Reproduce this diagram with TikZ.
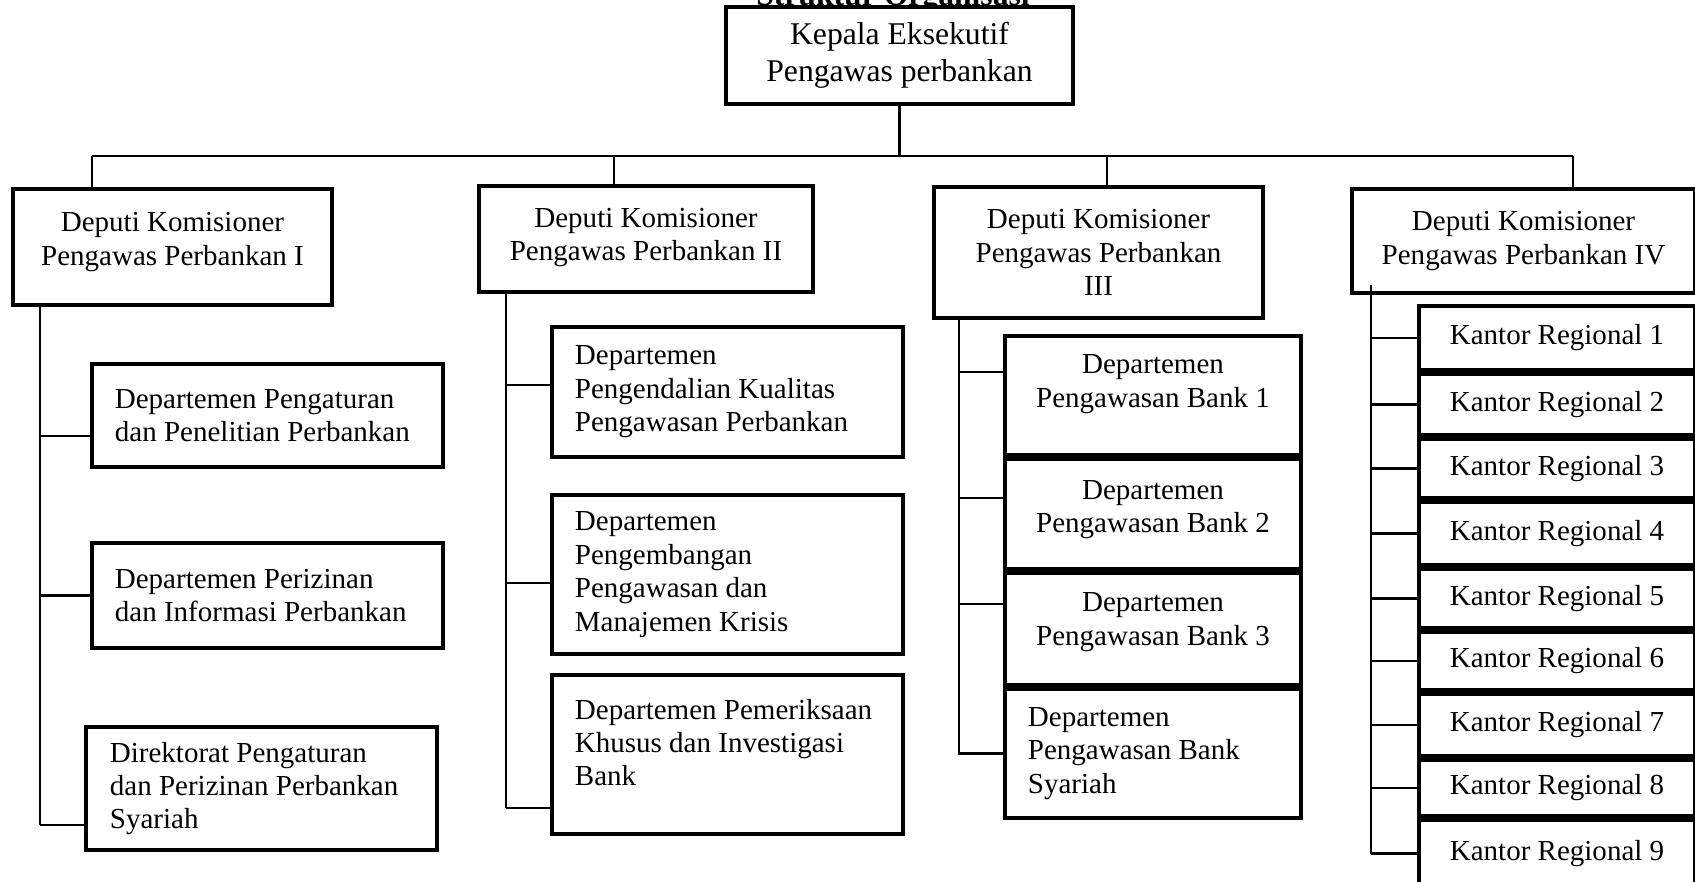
\documentclass[tikz,border=0pt]{standalone}
\usepackage{fontspec}
\setmainfont{Liberation Serif}
\usepackage{tikz}

\tikzset{
  box/.style={draw, rectangle, line width=1.15pt, align=center, inner sep=0pt},
  lbox/.style={box, align=flush left, inner xsep=0.23cm},
  link/.style={line width=0.6pt},
}

\begin{document}
\begin{tikzpicture}[x=0.01cm, y=-0.01cm, font=\fontsize{8.25}{9.5}\selectfont]
    % Struktur organisasi pengawas perbankan
    \clip (0,0) rectangle (1695,881);
    \node (title) at (893,5) [anchor=base, font=\fontsize{9}{10.4}\selectfont\bfseries] {Struktur Organisasi};
    \node (top) at (899.5,55.5) [box, fill=white, minimum width=3.47cm, minimum height=0.97cm, font=\fontsize{9}{10.4}\selectfont] {Kepala Eksekutif\\Pengawas perbankan};

    % deputi komisioner
    \node (dep1) at (172.5,247) [box, minimum width=3.19cm, minimum height=1.16cm, text depth=0.16cm] {Deputi Komisioner\\Pengawas Perbankan I};
    \node (dep2) at (646,239) [box, minimum width=3.34cm, minimum height=1.06cm, text depth=0.09cm] {Deputi Komisioner\\Pengawas Perbankan II};
    \node (dep3) at (1098.5,252.5) [box, minimum width=3.29cm, minimum height=1.31cm] {Deputi Komisioner\\Pengawas Perbankan\\III};
    \node (dep4) at (1523.5,241) [box, minimum width=3.43cm, minimum height=1.04cm] {Deputi Komisioner\\Pengawas Perbankan IV};

    % departemen di bawah deputi I
    \node (d1a) at (267.5,415.5) [lbox, text width=3.05cm, minimum height=1.03cm] {Departemen Pengaturan\\dan Penelitian Perbankan};
    \node (d1b) at (267.5,595.5) [lbox, text width=3.05cm, minimum height=1.05cm] {Departemen Perizinan\\dan Informasi Perbankan};
    \node (d1c) at (261.5,788.5) [lbox, inner xsep=0.24cm, text width=3.03cm, minimum height=1.23cm] {Direktorat Pengaturan\\dan Perizinan Perbankan\\Syariah};

    % departemen di bawah deputi II
    \node (d2a) at (727.5,392) [lbox, text width=3.05cm, minimum height=1.30cm] {Departemen\\Pengendalian Kualitas\\Pengawasan Perbankan};
    \node (d2b) at (727.5,574.5) [lbox, text width=3.05cm, minimum height=1.59cm] {Departemen\\Pengembangan\\Pengawasan dan\\Manajemen Krisis};
    \node (d2c) at (727.5,754.5) [lbox, text width=3.05cm, minimum height=1.59cm, text depth=0.91cm] {Departemen Pemeriksaan\\Khusus dan Investigasi\\Bank};

    % departemen di bawah deputi III
    \node (d3a) at (1153,395.5) [box, minimum width=2.96cm, minimum height=1.19cm, text depth=0.29cm] {Departemen\\Pengawasan Bank 1};
    \node (d3b) at (1153,514) [box, minimum width=2.96cm, minimum height=1.10cm, text depth=0.15cm] {Departemen\\Pengawasan Bank 2};
    \node (d3c) at (1153,629) [box, minimum width=2.96cm, minimum height=1.12cm, text depth=0.2cm] {Departemen\\Pengawasan Bank 3};
    \node (d3d) at (1153,753.5) [lbox, text width=2.50cm, minimum height=1.29cm] {Departemen\\Pengawasan Bank\\Syariah};

    % kantor regional di bawah deputi IV
    \foreach \i/\y/\h in {1/338/0.64, 2/404.5/0.61, 3/468.5/0.59, 4/533.5/0.63, 5/598.5/0.59, 6/661/0.58, 7/725/0.62, 8/788/0.56, 9/853.5/0.67}
        \node (k\i) at (1557,\y) [box, minimum width=2.76cm, minimum height=\h cm] {Kantor Regional \i};

    % garis penghubung
    \coordinate (b1) at (92,156);
    \coordinate (b2) at (614,156);
    \coordinate (b3) at (1107,156);
    \coordinate (b4) at (1573,156);
    \draw [link] (b1) -- (b4);
    \draw [link] (top.south) -- (top.south |- b1);
    \foreach \i in {1,...,4}
        \draw [link] (b\i) -- (b\i |- dep\i.north);

    \coordinate (s1) at (40,825);
    \coordinate (s2) at (506,808);
    \coordinate (s3) at (959,755);
    \coordinate (s4) at (1371,854);
    \draw [link] (s1 |- dep1.south) -- (s1);
    \draw [link] (s2 |- dep2.south) -- (s2);
    \draw [link] (s3 |- dep3.south) -- (s3);
    \draw [link] ([yshift=0.1cm]s4 |- dep4.south) -- (s4);

    \foreach \n/\s/\dy in {d1a/s1/-0.205, d1b/s1/0, d1c/s1/-0.365, d2a/s2/0.07, d2b/s2/-0.085, d2c/s2/-0.535, d3a/s3/0.235, d3b/s3/0.16, d3c/s3/0.25, d3d/s3/0}
        \draw [link] ([yshift=\dy cm]\n.west) -- ([yshift=\dy cm]\n.west -| \s);
    \foreach \i in {1,...,9}
        \draw [link] (k\i.west) -- (k\i.west -| s4);
\end{tikzpicture}
\end{document}
